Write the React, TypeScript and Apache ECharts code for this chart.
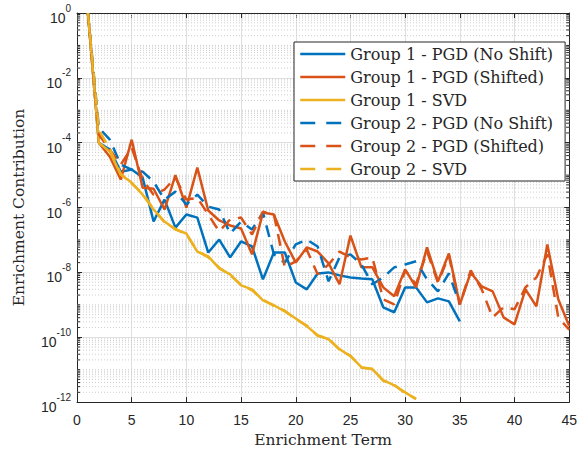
import React, { useEffect, useRef } from "react";
import * as echarts from "echarts";

// ---------------- data ----------------
const terms = [
  1, 2, 3, 4, 5, 6, 7, 8, 9, 10, 11, 12, 13, 14, 15, 16, 17, 18, 19, 20, 21, 22, 23,
  24, 25, 26, 27, 28, 29, 30, 31, 32, 33, 34, 35, 36, 37, 38, 39, 40, 41, 42, 43, 44, 45,
];

const g1NoShift = [
  1, 1e-4, 6.1e-5, 1.28e-5, 1.48e-5, 8.4e-6, 3.7e-7, 1.76e-6, 2.4e-7, 6.1e-7,
  4.9e-7, 4.1e-8, 1.03e-7, 2.9e-8, 9.0e-8, 6.3e-8, 6.1e-9, 4.1e-8, 4.1e-8, 4.9e-9,
  3.0e-9, 9.3e-9, 1.0e-8, 8.1e-9, 7.0e-9, 6.5e-9, 6.1e-9, 8.4e-10, 5.9e-10, 3.45e-9,
  3.45e-9, 1.19e-9, 1.58e-9, 1.28e-9, 3.1e-10,
];

const g1Shifted = [
  1, 1e-4, 3.7e-5, 7.3e-6, 1.24e-4, 4.1e-6, 3.8e-6, 8.7e-7, 1.0e-5, 1.0e-6,
  1.7e-5, 8.1e-7, 4.0e-7, 2.8e-7, 2.26e-7, 3.6e-8, 7.0e-7, 6.1e-7, 9.0e-8, 2.0e-8,
  5.9e-8, 4.4e-8, 1.9e-8, 4.3e-9, 1.37e-7, 1.43e-8, 1.43e-8, 3.45e-9, 1.83e-9, 1.24e-8,
  3.45e-9, 5.9e-8, 5.3e-9, 3.85e-8, 1.03e-9, 1.0e-8, 3.7e-9, 2.6e-9, 4.1e-10, 2.5e-10,
  3.0e-9, 9.0e-10, 7.3e-8, 1.48e-9, 2.2e-10,
];

const g1Svd = [
  1, 1e-4, 5.3e-5, 1.03e-5, 5.9e-6, 2.5e-6, 8.7e-7, 3.7e-7, 2.1e-7, 1.58e-7,
  4.4e-8, 3.1e-8, 1.33e-8, 8.7e-9, 4.0e-9, 3.0e-9, 1.37e-9, 9.7e-10, 6.3e-10, 3.8e-10,
  2.2e-10, 1.15e-10, 8.7e-11, 4.3e-11, 2.6e-11, 1.19e-11, 1.03e-11, 4.75e-12, 3.3e-12, 2.0e-12,
  1.24e-12,
];

const g2NoShift = [
  1, 2.9e-4, 1.24e-4, 2.1e-5, 1.48e-5, 1.28e-5, 6.3e-6, 1.76e-6, 3.1e-6, 1.24e-6,
  2.5e-6, 1.07e-6, 8.7e-7, 1.58e-7, 3.7e-7, 2.1e-7, 7.0e-7, 3.6e-8, 2.0e-8, 7.3e-8,
  1.03e-7, 6.3e-8, 5.3e-9, 2.9e-8, 3.6e-8, 1.76e-8, 4.3e-9, 7.0e-9, 1.43e-8, 1.76e-8,
  2.2e-8, 6.1e-9, 2.6e-9, 9.3e-9, 1.03e-9,
];

const g2Shifted = [
  1, 1.76e-4, 6.1e-5, 2.1e-5, 7.0e-5, 7.3e-6, 2.5e-6, 3.6e-6, 8.4e-6, 1.76e-6,
  2.0e-6, 6.1e-7, 1.83e-7, 4.3e-7, 4.9e-7, 1.48e-7, 7.5e-7, 6.1e-7, 1.43e-8, 2.2e-8,
  5.1e-8, 8.7e-9, 1.76e-8, 4.4e-8, 2.9e-8, 2.5e-8, 2.9e-8, 1.48e-9, 1.03e-9, 1.15e-8,
  4.3e-9, 4.4e-8, 4.9e-9, 3.2e-8, 1.03e-9, 1.15e-8, 3.0e-9, 4.1e-10, 8.4e-10, 7.3e-10,
  3.45e-9, 7.0e-9, 3.6e-8, 4.1e-10, 1.7e-10,
];

const g2Svd = [
  1, 2.5e-4, 6.3e-5, 1.1e-5, 5.5e-6, 2.7e-6, 9.0e-7, 3.5e-7, 2.2e-7, 1.5e-7,
  4.6e-8, 2.9e-8, 1.4e-8, 8.2e-9, 4.2e-9, 2.8e-9, 1.45e-9, 9.2e-10, 6.6e-10, 3.6e-10,
  2.3e-10, 1.1e-10, 9.1e-11, 4.1e-11, 2.7e-11, 1.15e-11, 1.07e-11, 4.5e-12, 3.4e-12, 1.9e-12,
  1.28e-12,
];

const seriesNames = [
  "Group 1 - PGD (No Shift)",
  "Group 1 - PGD (Shifted)",
  "Group 1 - SVD",
  "Group 2 - PGD (No Shift)",
  "Group 2 - PGD (Shifted)",
  "Group 2 - SVD",
];

// ---------------- style ----------------
const AX = "#262626";
const BLUE = "#0072BD";
const ORANGE = "#D95319";
const YELLOW = "#EDB120";
const SANS = "'Liberation Sans', Arial, Helvetica, sans-serif";
const SERIF = "'DejaVu Serif', 'Liberation Serif', serif";
const DASH = [12, 8];

// minor log grid positions (2..9 x 10^k and the odd decades)
const minorVals: number[] = [];
for (let e = -12; e < 0; e++) {
  if (e % 2 !== 0) minorVals.push(Math.pow(10, e));
  for (let k = 2; k <= 9; k++) minorVals.push(k * Math.pow(10, e));
}

function pairs(vals: number[]) {
  return vals.map((v, i) => [terms[i], v]);
}

function buildOption() {
  const mkLine = (name: string, vals: number[], color: string, dashed: boolean) => ({
    name,
    type: "line",
    xAxisIndex: 0,
    yAxisIndex: 0,
    data: pairs(vals),
    symbol: "none",
    showSymbol: false,
    silent: true,
    z: 3,
    lineStyle: { color, width: 2.5, type: dashed ? DASH : "solid" },
    itemStyle: { color },
    emphasis: { disabled: true },
  });

  const minorGrid = {
    type: "custom",
    name: "minor-grid",
    xAxisIndex: 0,
    yAxisIndex: 0,
    silent: true,
    z: 1,
    clip: false,
    data: minorVals.map((v) => [0, v]),
    renderItem: (_params: any, api: any) => {
      const v = api.value(1);
      const p0 = api.coord([0, v]);
      const p1 = api.coord([45, v]);
      return {
        type: "group",
        children: [
          {
            type: "line",
            shape: { x1: p0[0], y1: p0[1], x2: p1[0], y2: p1[1] },
            style: { stroke: "#cfcfcf", lineWidth: 1, lineDash: [1, 2] },
          },
          {
            type: "line",
            shape: { x1: p0[0], y1: p0[1], x2: p0[0] + 3, y2: p0[1] },
            style: { stroke: AX, lineWidth: 1 },
          },
          {
            type: "line",
            shape: { x1: p1[0] - 3, y1: p1[1], x2: p1[0], y2: p1[1] },
            style: { stroke: AX, lineWidth: 1 },
          },
        ],
      };
    },
  };

  return {
    animation: false,
    backgroundColor: "#ffffff",
    grid: { left: 77, right: 8, top: 13, bottom: 50, containLabel: false },
    legend: {
      orient: "vertical",
      left: 294,
      top: 42,
      itemWidth: 45,
      itemHeight: 14,
      itemGap: 3,
      padding: [2, 12, 2, 5],
      backgroundColor: "#ffffff",
      borderColor: AX,
      borderWidth: 1,
      borderRadius: 0,
      selectedMode: false,
      textStyle: { fontFamily: SERIF, fontSize: 16, color: AX, lineHeight: 20 },
      itemStyle: { opacity: 0 },
      data: seriesNames.map((n, i) => ({
        name: n,
        itemStyle: { opacity: 0 },
        lineStyle: { width: 2.5, type: i >= 3 ? [15, 11] : "solid" },
      })),
    },
    xAxis: [
      {
        type: "value",
        min: 0,
        max: 45,
        interval: 5,
        position: "bottom",
        name: "Enrichment Term",
        nameLocation: "middle",
        nameGap: 29,
        nameTextStyle: { fontFamily: SERIF, fontSize: 15.5, color: AX },
        axisLine: { show: true, onZero: false, lineStyle: { color: AX, width: 1 } },
        axisTick: { show: true, inside: true, length: 5, lineStyle: { color: AX } },
        axisLabel: { show: true, margin: 11, fontFamily: SANS, fontSize: 14, color: AX },
        splitLine: { show: true, lineStyle: { color: "#dfdfdf", width: 1 } },
      },
      {
        type: "value",
        min: 0,
        max: 45,
        interval: 5,
        position: "top",
        axisLine: { show: true, onZero: false, lineStyle: { color: AX, width: 1 } },
        axisTick: { show: true, inside: true, length: 5, lineStyle: { color: AX } },
        axisLabel: { show: false },
        splitLine: { show: false },
      },
    ],
    yAxis: [
      {
        type: "log",
        logBase: 10,
        min: 1e-12,
        max: 1,
        position: "left",
        axisLine: { show: false },
        axisTick: { show: false },
        axisLabel: { show: false },
        splitLine: { show: false },
        minorTick: { show: false },
        minorSplitLine: { show: false },
      },
      {
        type: "value",
        min: -12,
        max: 0,
        interval: 2,
        position: "left",
        name: "Enrichment Contribution",
        nameLocation: "middle",
        nameGap: 50,
        nameTextStyle: { fontFamily: SERIF, fontSize: 15.5, color: AX },
        axisLine: { show: true, onZero: false, lineStyle: { color: AX, width: 1 } },
        axisTick: { show: true, inside: true, length: 5, lineStyle: { color: AX } },
        axisLabel: {
          show: true,
          margin: 6,
          formatter: (v: number) => `{b|10}{s|${v}}`,
          rich: {
            b: { fontFamily: SANS, fontSize: 14, color: AX, lineHeight: 14, padding: [10, 0, 0, 0] },
            s: { fontFamily: SANS, fontSize: 10, color: AX, lineHeight: 10, padding: [2, 0, 12, 0] },
          },
        },
        splitLine: { show: true, lineStyle: { color: "#dfdfdf", width: 1 } },
      },
      {
        type: "value",
        min: -12,
        max: 0,
        interval: 2,
        position: "right",
        axisLine: { show: true, onZero: false, lineStyle: { color: AX, width: 1 } },
        axisTick: { show: true, inside: true, length: 5, lineStyle: { color: AX } },
        axisLabel: { show: false },
        splitLine: { show: false },
      },
    ],
    series: [
      minorGrid,
      mkLine(seriesNames[0], g1NoShift, BLUE, false),
      mkLine(seriesNames[1], g1Shifted, ORANGE, false),
      mkLine(seriesNames[2], g1Svd, YELLOW, false),
      mkLine(seriesNames[3], g2NoShift, BLUE, true),
      mkLine(seriesNames[4], g2Shifted, ORANGE, true),
      mkLine(seriesNames[5], g2Svd, YELLOW, true),
    ],
  };
}

export default function App() {
  const ref = useRef<HTMLDivElement>(null);
  useEffect(() => {
    document.body.style.margin = "0";
    if (!ref.current) return;
    const chart = echarts.init(ref.current, null, { renderer: "svg" });
    chart.setOption(buildOption() as any);
    return () => {
      chart.dispose();
    };
  }, []);
  return (
    <div
      ref={ref}
      style={{ width: 580, height: 453, position: "absolute", left: 0, top: 0, background: "#fff" }}
    />
  );
}
